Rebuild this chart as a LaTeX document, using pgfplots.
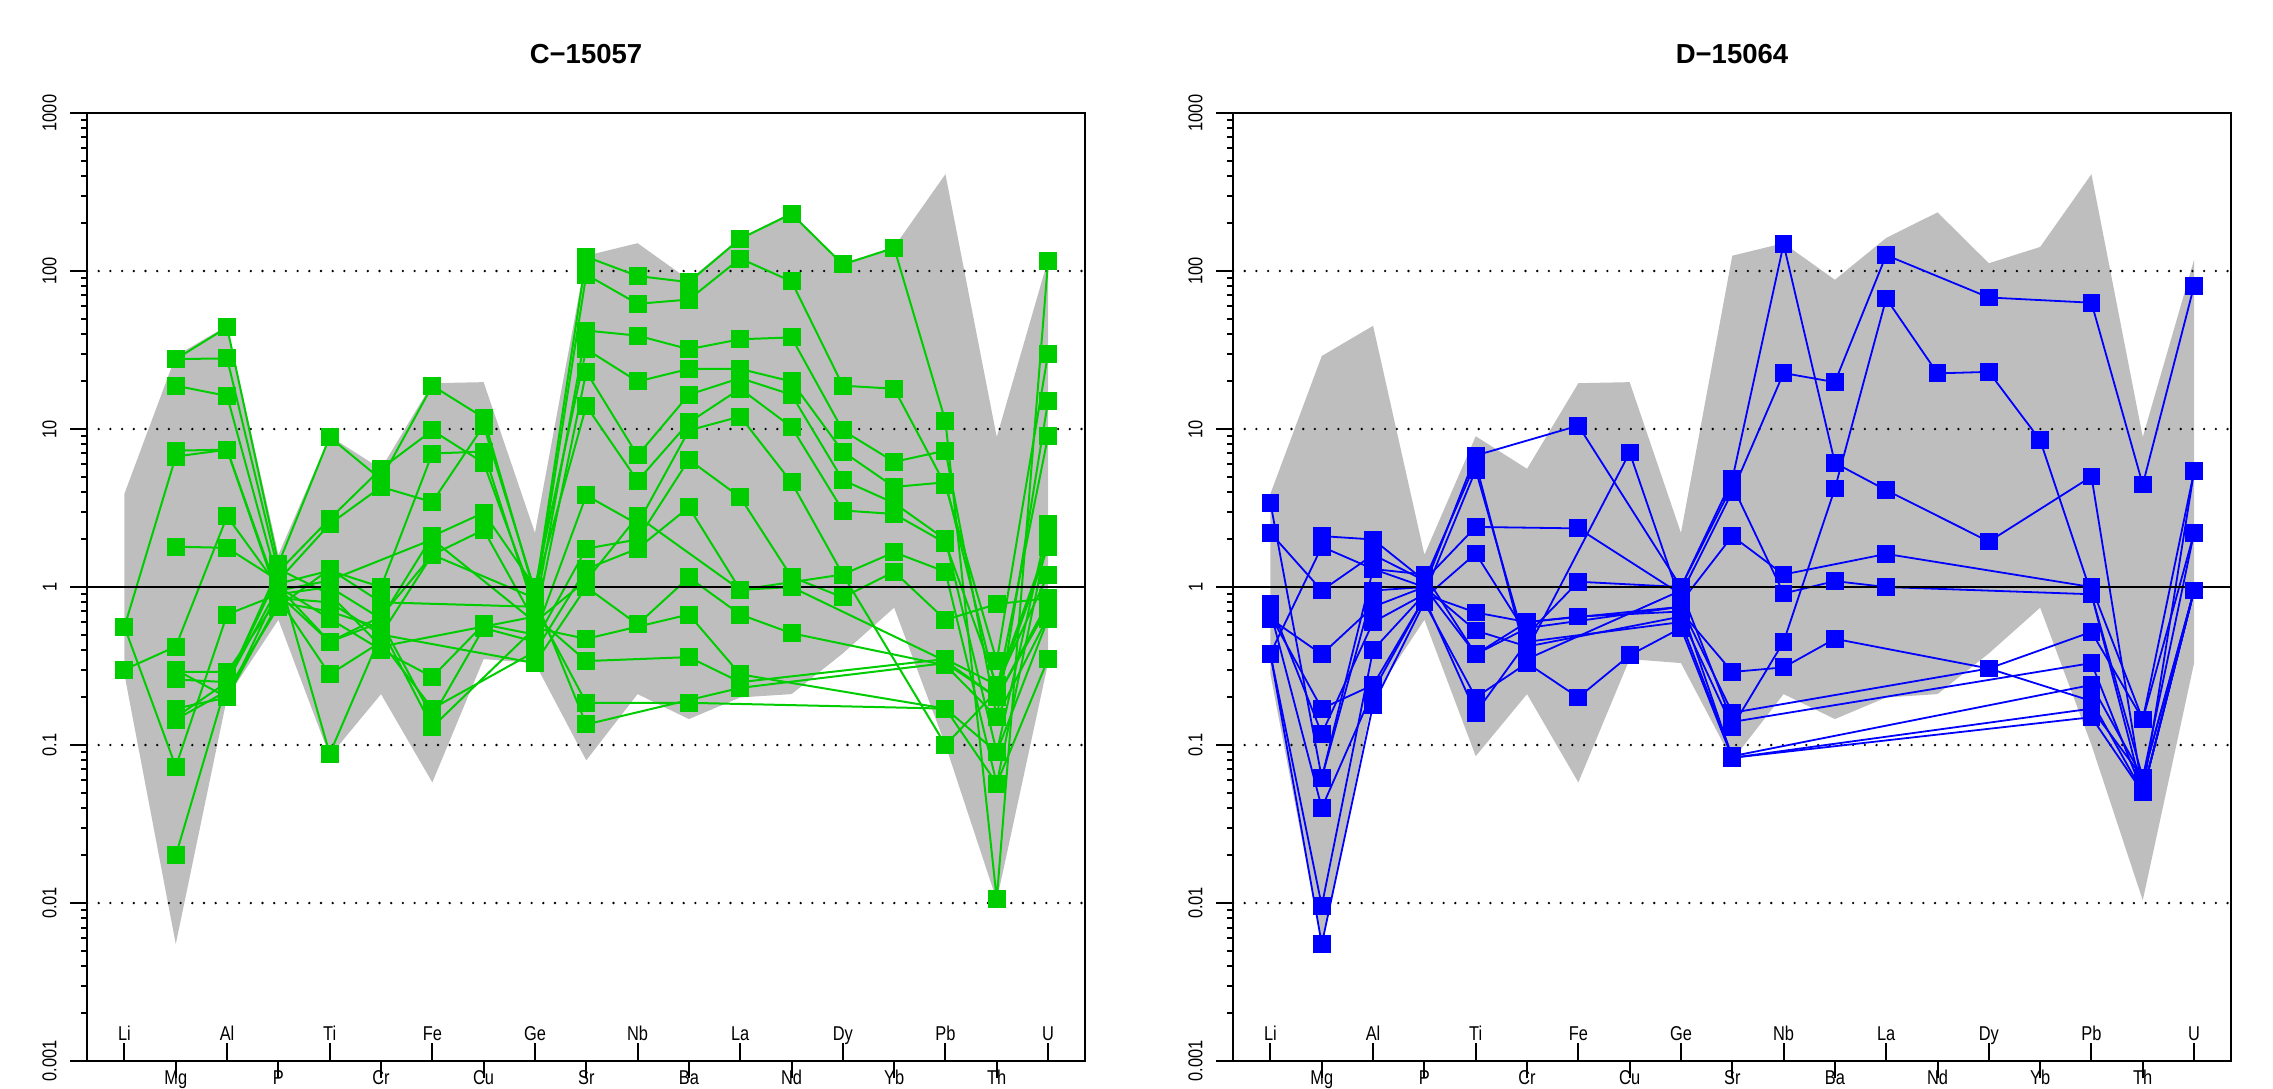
\documentclass[border=0pt]{standalone}
\usepackage{fontspec}
\setmainfont{Liberation Sans}[FakeStretch=0.82]
\newfontfamily\titlefont{Liberation Sans}
\usepackage{pgfplots}
\pgfplotsset{compat=1.18}
\definecolor{envgray}{HTML}{BEBEBE}
\definecolor{rgreen}{HTML}{00CD00}
\definecolor{rblue}{HTML}{0000FF}
\tikzset{
  spenv/.style={fill=envgray, draw=none},
  spdot/.style={black, line width=1.3pt, dash pattern=on 0pt off 5.85pt, line cap=round},
  spone/.style={black, line width=1pt},
  gser/.style={rgreen, line width=1pt, mark=square*, mark size=4pt, mark options={fill=rgreen, draw=none}},
  bser/.style={rblue, line width=0.9pt, mark=square*, mark size=4pt, mark options={fill=rblue, draw=none}},
}
\newcommand{\envelope}{%
  \addplot[spenv] coordinates {(0,3.9)(1,29)(2,45)(3,1.6)(4,9.0)(5,5.6)(6,19.5)(7,19.8)(8,2.2)(9,125)(10,150)(11,88)(12,162)(13,235)(14,112)(15,142)(16,410)(17,8.9)(18,118)
    (18,0.33)(17,0.0104)(16,0.1)(15,0.74)(14,0.38)(13,0.21)(12,0.2)(11,0.146)(10,0.21)(9,0.08)(8,0.33)(7,0.35)(6,0.058)(5,0.21)(4,0.085)(3,0.62)(2,0.2)(1,0.0055)(0,0.28)} -- cycle;
  \addplot[spdot] coordinates {(-0.73,100)(18.72,100)};
  \addplot[spdot] coordinates {(-0.73,10)(18.72,10)};
  \addplot[spdot] coordinates {(-0.73,0.1)(18.72,0.1)};
  \addplot[spdot] coordinates {(-0.73,0.01)(18.72,0.01)};
}
\begin{document}
\begin{tikzpicture}[x=1pt,y=1pt]
\useasboundingbox (0,0) rectangle (1136.5,-544);
% ---------------- left panel
\begin{axis}[at={(43.5pt,-530.5pt)}, anchor=south west,
    scale only axis, width=499pt, height=474pt,
    xmin=-0.73, xmax=18.72, ymode=log, ymin=0.001, ymax=1000,
    xtick pos=bottom, ytick pos=left,
    tick style={line width=1pt, black},
    tick label style={font=\fontsize{10}{11}\selectfont, inner sep=0pt},
    axis line style={line width=1pt},
    tick align=outside, major tick length=8.5pt,
    xtick={1,3,5,7,9,11,13,15,17},
    xticklabels={Mg,P,Cr,Cu,Sr,Ba,Nd,Yb,Th},
    ytick={0.001,0.01,0.1,1,10,100,1000},
    yticklabels={0.001,0.01,0.1,1,10,100,1000},
    xticklabel style={anchor=north, yshift=4pt},
    yticklabel style={xshift=-6.5pt, rotate=90, anchor=south},
    title style={font=\titlefont\bfseries\fontsize{13.75}{15}\selectfont, anchor=base, at={(0.5,1)}, yshift=19pt},
    title={C−15057}]
\envelope
\addplot[gser] coordinates {(1,27.7)(2,44)(3,1.4)(4,8.9)(5,4.8)(6,18.8)(7,11.8)(8,0.9)(9,123)(10,93)(11,85)(12,160)(13,230)(14,110)(15,140)(16,11.2)(17,0.0106)(18,115)};
\addplot[gser] coordinates {(1,27.7)(2,28)(3,1.25)(4,2.7)(5,5.6)(6,9.8)(7,6.1)(8,0.8)(9,95)(10,62)(11,66)(12,120)(13,86)(14,18.8)(15,18)(16,4.4)(17,0.34)(18,30)};
\addplot[gser] coordinates {(1,18.8)(2,16.2)(3,1.05)(4,1.27)(5,1.0)(6,7.0)(7,7.2)(8,0.7)(9,42)(10,39)(11,32)(12,37)(13,38)(14,9.8)(15,6.2)(16,7.3)(17,0.15)(18,15)};
\addplot[gser] coordinates {(1,7.3)(2,7.4)(3,0.9)(4,1.0)(5,0.63)(6,2.1)(7,2.95)(8,1.0)(9,32)(10,20)(11,24)(12,24)(13,20)(14,7.2)(15,4.3)(16,4.6)(17,0.22)(18,9.0)};
\addplot[gser] coordinates {(0,0.56)(1,6.7)(2,7.4)(3,0.85)(4,0.8)(5,0.5)(6,1.6)(7,2.3)(8,0.6)(9,23)(10,6.8)(11,16.5)(12,21)(13,16.5)(14,4.75)(15,3.4)(16,2.0)(17,0.09)(18,2.5)};
\addplot[gser] coordinates {(1,1.8)(2,1.77)(3,1.1)(4,2.5)(5,4.3)(6,3.45)(7,10.5)(8,0.95)(9,14)(10,4.7)(11,11)(12,18)(13,10.3)(14,3.05)(15,2.9)(16,1.9)(17,0.24)(18,1.9)};
\addplot[gser] coordinates {(0,0.30)(1,0.42)(2,2.8)(3,1.0)(4,0.63)(5,0.4)(6,0.27)(7,0.58)(8,0.5)(9,3.8)(10,2.5)(11,9.8)(12,12)(13,4.6)(14,1.2)(15,1.66)(16,1.25)(17,0.057)(18,2.1)};
\addplot[gser] coordinates {(0,0.56)(1,0.073)(2,0.67)(3,0.9)(4,0.45)(5,0.6)(6,0.15)(7,0.55)(8,0.45)(9,1.75)(10,2.0)(11,6.4)(12,3.7)(13,1.16)(14,0.86)(15,1.25)(16,0.62)(17,0.78)(18,0.85)};
\addplot[gser] coordinates {(1,0.29)(2,0.29)(3,0.85)(4,0.28)(5,0.45)(6,0.17)(8,0.39)(9,1.3)(10,1.75)(11,3.2)(12,0.96)(13,1.0)(16,0.34)(17,0.2)(18,0.75)};
\addplot[gser] coordinates {(1,0.26)(2,0.25)(3,1.2)(4,0.088)(5,0.5)(8,0.33)(9,1.0)(10,0.58)(11,1.15)(12,0.67)(13,0.51)(16,0.32)(17,0.15)(18,0.65)};
\addplot[gser] coordinates {(1,0.17)(2,0.2)(3,0.8)(4,0.7)(5,0.55)(6,0.13)(8,0.55)(9,0.47)(11,0.67)(12,0.28)(16,0.17)(17,0.09)(18,0.63)};
\addplot[gser] coordinates {(1,0.15)(2,0.25)(3,1.3)(4,0.9)(5,0.42)(8,0.65)(9,0.34)(11,0.36)(12,0.25)(16,0.35)(17,0.24)(18,1.2)};
\addplot[gser] coordinates {(1,0.145)(2,0.22)(3,0.75)(4,1.3)(5,0.8)(8,0.75)(9,0.185)(11,0.185)(16,0.17)(17,0.057)(18,0.35)};
\addplot[gser] coordinates {(1,0.020)(2,0.25)(3,1.0)(4,0.45)(5,0.65)(6,1.6)(8,0.85)(9,0.135)(12,0.23)(16,0.33)(17,0.2)(18,0.8)};
\addplot[gser] coordinates {(1,0.3)(2,0.2)(3,0.95)(4,1.1)(6,2.0)(8,0.6)(9,1.1)(10,2.8)(12,0.96)(14,1.2)(16,0.1)(17,0.22)(18,1.8)};
\addplot[spone] coordinates {(-0.73,1)(18.72,1)};
\end{axis}
\begin{axis}[at={(43.5pt,-530.5pt)}, anchor=south west,
    scale only axis, width=499pt, height=474pt,
    xmin=-0.73, xmax=18.72, ymode=log, ymin=0.001, ymax=1000,
    xtick pos=bottom, ytick pos=left,
    tick style={line width=1pt, black},
    tick label style={font=\fontsize{10}{11}\selectfont, inner sep=0pt},
    axis line style={draw=none},
    tick align=inside, major tick length=9pt, minor tick length=7pt,
    xtick={0,2,4,6,8,10,12,14,16,18},
    xticklabels={Li,Al,Ti,Fe,Ge,Nb,La,Dy,Pb,U},
    ytick=\empty,
    minor ytick={0.001,0.002,0.003,0.004,0.005,0.006,0.007,0.008,0.009,0.01,0.02,0.03,0.04,0.05,0.06,0.07,0.08,0.09,0.1,0.2,0.3,0.4,0.5,0.6,0.7,0.8,0.9,1,2,3,4,5,6,7,8,9,10,20,30,40,50,60,70,80,90,100,200,300,400,500,600,700,800,900,1000},
    xticklabel style={anchor=base, yshift=10.5pt}]
\addplot[draw=none] coordinates {(0,1)};
\end{axis}
% ---------------- right panel
\begin{axis}[at={(616.5pt,-530.5pt)}, anchor=south west,
    scale only axis, width=499pt, height=474pt,
    xmin=-0.73, xmax=18.72, ymode=log, ymin=0.001, ymax=1000,
    xtick pos=bottom, ytick pos=left,
    tick style={line width=1pt, black},
    tick label style={font=\fontsize{10}{11}\selectfont, inner sep=0pt},
    axis line style={line width=1pt},
    tick align=outside, major tick length=8.5pt,
    xtick={1,3,5,7,9,11,13,15,17},
    xticklabels={Mg,P,Cr,Cu,Sr,Ba,Nd,Yb,Th},
    ytick={0.001,0.01,0.1,1,10,100,1000},
    yticklabels={0.001,0.01,0.1,1,10,100,1000},
    xticklabel style={anchor=north, yshift=4pt},
    yticklabel style={xshift=-6.5pt, rotate=90, anchor=south},
    title style={font=\titlefont\bfseries\fontsize{13.75}{15}\selectfont, anchor=base, at={(0.5,1)}, yshift=19pt},
    title={D−15064}]
\envelope
\addplot[bser] coordinates {(0,3.4)(1,0.062)(2,1.3)(3,1.0)(4,6.8)(6,10.5)(8,1.0)(9,4.8)(10,148)(11,6.1)(12,4.1)(14,1.94)(16,5.0)(17,0.05)(18,5.4)};
\addplot[bser] coordinates {(0,2.2)(1,0.95)(2,1.6)(3,1.1)(4,2.4)(6,2.35)(8,0.9)(9,4.0)(10,22.6)(11,19.8)(12,126)(14,68)(16,63)(17,4.45)(18,80.6)};
\addplot[bser] coordinates {(0,0.78)(1,0.118)(2,0.6)(3,0.9)(4,5.5)(5,0.4)(7,7.1)(8,0.8)(9,2.1)(10,1.2)(12,1.62)(16,1.0)(17,0.145)(18,2.2)};
\addplot[bser] coordinates {(0,0.66)(1,0.17)(2,0.24)(3,0.85)(4,1.63)(5,0.5)(6,1.08)(8,1.0)(9,4.4)(10,0.91)(11,1.09)(12,1.0)(16,0.9)(17,0.062)(18,0.95)};
\addplot[bser] coordinates {(0,0.375)(1,0.0096)(2,0.4)(3,0.9)(4,0.69)(5,0.6)(6,0.65)(8,0.7)(9,0.29)(10,0.31)(11,0.47)(14,0.305)(16,0.19)(17,0.05)(18,0.95)};
\addplot[bser] coordinates {(0,0.375)(1,0.0055)(2,0.18)(3,0.8)(4,0.2)(5,0.33)(6,0.2)(7,0.37)(8,0.55)(9,0.083)(16,0.15)(17,0.05)(18,0.95)};
\addplot[bser] coordinates {(0,0.7)(1,0.04)(2,0.22)(3,0.85)(4,0.16)(5,0.45)(8,0.6)(9,0.085)(16,0.24)(17,0.062)(18,2.2)};
\addplot[bser] coordinates {(0,0.63)(1,0.375)(2,0.75)(3,1.0)(4,0.53)(5,0.42)(8,0.65)(9,0.13)(10,0.45)(11,4.2)(12,67)(13,22.5)(14,23)(15,8.5)(16,0.9)(17,0.05)(18,0.95)};
\addplot[bser] coordinates {(0,0.38)(1,1.8)(2,1.3)(3,1.2)(4,0.375)(5,0.6)(8,0.75)(9,0.16)(14,0.305)(16,0.52)(17,0.145)(18,5.4)};
\addplot[bser] coordinates {(1,2.1)(2,2.0)(3,1.1)(4,6.1)(5,0.35)(8,0.95)(9,0.14)(16,0.33)(17,0.05)(18,0.95)};
\addplot[bser] coordinates {(1,0.062)(2,0.95)(3,1.0)(4,0.375)(5,0.55)(8,0.75)(9,0.083)(16,0.17)(17,0.062)(18,0.95)};
\addplot[spone] coordinates {(-0.73,1)(18.72,1)};
\end{axis}
\begin{axis}[at={(616.5pt,-530.5pt)}, anchor=south west,
    scale only axis, width=499pt, height=474pt,
    xmin=-0.73, xmax=18.72, ymode=log, ymin=0.001, ymax=1000,
    xtick pos=bottom, ytick pos=left,
    tick style={line width=1pt, black},
    tick label style={font=\fontsize{10}{11}\selectfont, inner sep=0pt},
    axis line style={draw=none},
    tick align=inside, major tick length=9pt, minor tick length=7pt,
    xtick={0,2,4,6,8,10,12,14,16,18},
    xticklabels={Li,Al,Ti,Fe,Ge,Nb,La,Dy,Pb,U},
    ytick=\empty,
    minor ytick={0.001,0.002,0.003,0.004,0.005,0.006,0.007,0.008,0.009,0.01,0.02,0.03,0.04,0.05,0.06,0.07,0.08,0.09,0.1,0.2,0.3,0.4,0.5,0.6,0.7,0.8,0.9,1,2,3,4,5,6,7,8,9,10,20,30,40,50,60,70,80,90,100,200,300,400,500,600,700,800,900,1000},
    xticklabel style={anchor=base, yshift=10.5pt}]
\addplot[draw=none] coordinates {(0,1)};
\end{axis}
\end{tikzpicture}
\end{document}
